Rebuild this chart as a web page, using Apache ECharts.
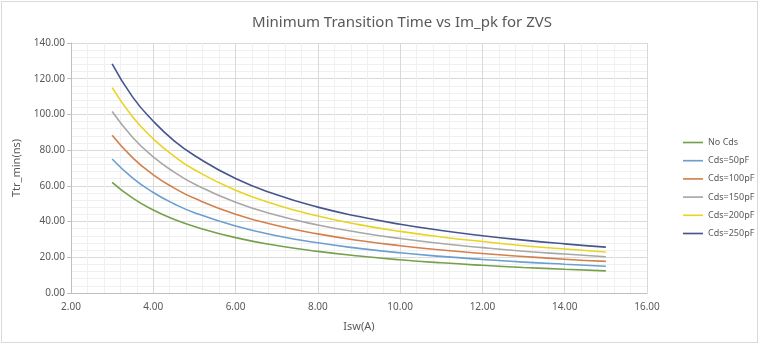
<!DOCTYPE html>
<html style="height: 100%">
<head>
<meta charset="utf-8">
<script src="https://cdn.jsdelivr.net/npm/echarts@6/dist/echarts.min.js"></script>
</head>
<body style="height: 100%; margin: 0; background: #fff">
<div id="container" style="position:absolute; left:1px; top:1px; width:757px; height:342px; border:1px solid #d9d9d9; box-sizing:border-box"></div>
<script>
// current values (A)
var isw = [3, 3.5, 4, 4.5, 5, 6, 7, 8, 9, 10, 11, 12, 13, 14, 15];

// minimum transition time (ns)
var noCds  = [62.0, 53.1, 46.5, 41.3, 37.2, 31.0, 26.6, 23.3, 20.7, 18.6, 16.9, 15.5, 14.3, 13.3, 12.4];
var cds50  = [75.0, 64.3, 56.3, 50.0, 45.0, 37.5, 32.1, 28.1, 25.0, 22.5, 20.5, 18.8, 17.3, 16.1, 15.0];
var cds100 = [88.3, 75.7, 66.2, 58.9, 53.0, 44.1, 37.8, 33.1, 29.4, 26.5, 24.1, 22.1, 20.4, 18.9, 17.7];
var cds150 = [101.6, 87.1, 76.2, 67.8, 61.0, 50.8, 43.5, 38.1, 33.9, 30.5, 27.7, 25.4, 23.4, 21.8, 20.3];
var cds200 = [115.0, 98.6, 86.3, 76.7, 69.0, 57.5, 49.3, 43.1, 38.3, 34.5, 31.4, 28.8, 26.5, 24.6, 23.0];
var cds250 = [128.3, 109.7, 96.2, 85.3, 77.0, 64.1, 55.0, 48.1, 42.8, 38.5, 35.0, 32.1, 29.6, 27.5, 25.7];

var seriesNames = ['No Cds', 'Cds=50pF', 'Cds=100pF', 'Cds=150pF', 'Cds=200pF', 'Cds=250pF'];
var seriesData = [noCds, cds50, cds100, cds150, cds200, cds250];
var colors = ['#76a04c', '#6a9fd0', '#d4804c', '#a8a8a8', '#e8d424', '#46568c'];

var font = 'Noto Sans';
var txt = '#595959';

var myChart = echarts.init(document.getElementById('container'));

var series = seriesData.map(function (vals, i) {
    return {
        name: seriesNames[i],
        type: 'line',
        smooth: true,
        symbol: 'none',
        lineStyle: { width: 1.6, color: colors[i] },
        itemStyle: { color: colors[i] },
        data: vals.map(function (v, j) { return [isw[j], v]; })
    };
});

myChart.setOption({
    animation: false,
    title: {
        text: 'Minimum Transition Time vs Im_pk for ZVS',
        left: 395, top: 8, textAlign: 'center',
        textStyle: { fontFamily: font, fontSize: 15, fontWeight: 'normal', color: txt }
    },
    legend: {
        orient: 'vertical',
        left: 676, top: 131,
        itemWidth: 20, itemHeight: 10, itemGap: 9.2,
        icon: 'path://M0,4h24v2h-24z',
        textStyle: { fontFamily: font, fontSize: 9, color: txt },
        data: seriesNames
    },
    grid: { left: 69, right: 110, top: 41, bottom: 49 },
    xAxis: {
        type: 'value', min: 2, max: 16, interval: 2,
        name: 'Isw(A)', nameLocation: 'middle', nameGap: 28,
        nameTextStyle: { fontFamily: font, fontSize: 11, color: txt },
        axisLine: { lineStyle: { color: '#bfbfbf' } },
        axisTick: { show: false },
        axisLabel: { fontFamily: font, fontSize: 10, color: txt, margin: 9,
            formatter: function (v) { return v.toFixed(2); } },
        splitLine: { lineStyle: { color: '#d9d9d9' } },
        minorTick: { show: false, splitNumber: 5 },
        minorSplitLine: { show: true, lineStyle: { color: '#f0f0f0' } }
    },
    yAxis: {
        type: 'value', min: 0, max: 140, interval: 20,
        name: 'Ttr_min(ns)', nameLocation: 'middle', nameGap: 40,
        nameTextStyle: { fontFamily: font, fontSize: 11, color: txt },
        axisLine: { show: true, lineStyle: { color: '#bfbfbf' } },
        axisTick: { show: true, length: 4, lineStyle: { color: '#bfbfbf' } },
        axisLabel: { fontFamily: font, fontSize: 10, color: txt, margin: 6,
            formatter: function (v) { return v.toFixed(2); } },
        splitLine: { lineStyle: { color: '#d9d9d9' } },
        minorTick: { show: false, splitNumber: 5 },
        minorSplitLine: { show: true, lineStyle: { color: '#f0f0f0' } }
    },
    series: series
});
</script>
</body>
</html>
